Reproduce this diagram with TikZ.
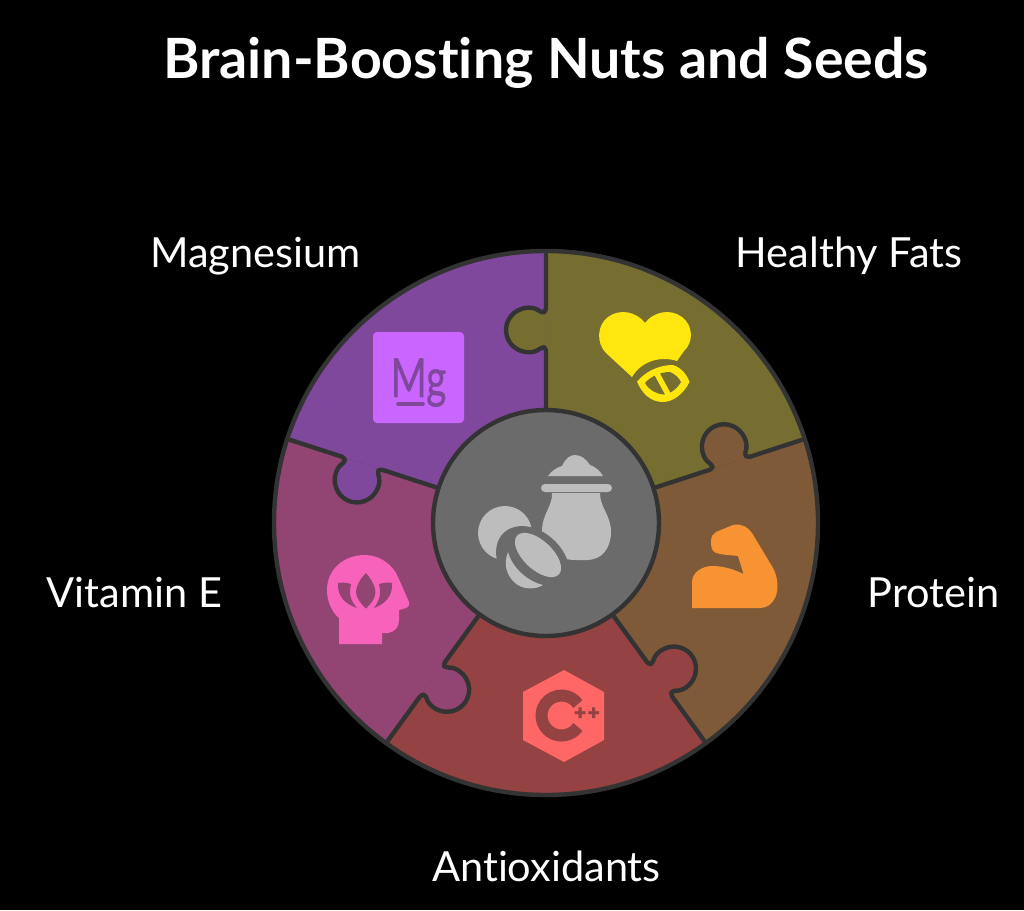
\documentclass[tikz,border=0pt]{standalone}
\usepackage{fontspec}
\setmainfont{Lato}[Ligatures=NoCommon]
\newfontfamily\iconfont{Fira Sans}
\newfontfamily\mgfont{Lato}[FakeBold=0.7]
\usetikzlibrary{calc}
\definecolor{seam}{RGB}{51,51,51}
\definecolor{olive}{RGB}{118,110,48}
\definecolor{brown}{RGB}{127,90,56}
\definecolor{brick}{RGB}{148,66,66}
\definecolor{plum}{RGB}{146,69,115}
\definecolor{grape}{RGB}{128,72,156}
\definecolor{hub}{RGB}{107,107,107}
\definecolor{hubicon}{RGB}{189,189,189}
\definecolor{mgicon}{RGB}{201,102,255}
\definecolor{hearticon}{RGB}{255,230,15}
\definecolor{armicon}{RGB}{247,147,51}
\definecolor{cppicon}{RGB}{255,102,102}
\definecolor{headicon}{RGB}{247,99,187}

\begin{document}
\begin{tikzpicture}[
  x=1pt, y=-1pt,
  title/.style={font=\fontsize{55.5}{60}\selectfont\bfseries, text=white, anchor=base},
  label/.style={font=\fontsize{41.5}{48}\selectfont, text=white, anchor=base},
  piece/.style={line width=4.4pt, draw=seam, line join=round, rounded corners=3pt},
  rim/.style={line width=4.4pt, draw=seam}
]

% Page background fixes the proportions.
\fill[black] (0,0) rectangle (1024,910);
\useasboundingbox (0,0) rectangle (1024,910);

\node[title] (head) at (546,78) {Brain-Boosting Nuts and Seeds};

% Ring wedges, one per 72 degrees, clockwise from the top.
\foreach \ang/\col in {0/olive,72/brown,144/brick,216/plum,288/grape}{
  \begin{scope}[shift={(546,523)},rotate=-\ang]
    \fill[\col] (-90:272) arc[start angle=-90,end angle=-18,radius=272]
      -- (-18:113) arc[start angle=-18,end angle=-90,radius=113] -- cycle;
  \end{scope}
}

% Seams with their puzzle tabs; each tab takes the colour of the wedge after the seam.
\foreach \ang/\col in {0/olive,72/brown,144/brick,216/plum,288/grape}{
  \begin{scope}[shift={(546,523)},rotate=-\ang]
    \path[piece, fill=\col] (0,-272) -- (0,-212)
      -- ($(-18,-193)+(-50:22)$) arc[start angle=-50,end angle=-310,radius=22]
      -- (0,-175) -- (0,-113);
  \end{scope}
}

% Outer rim and centre disc.
\draw[rim] (546,523) circle (272);
\draw[rim, fill=hub] (546,523) circle (113);

% Centre icon: jar and two nuts.
\fill[hubicon] (505,533) circle (27);
\fill[hubicon] (552,493) .. controls (553,505) and (542,515) .. (542,530)
  .. controls (542,545) and (555,560) .. (575,560) -- (587,560)
  .. controls (602,560) and (611,548) .. (611,532)
  .. controls (611,515) and (600,508) .. (600,493) -- cycle;
\fill[hubicon, rounded corners=4pt] (541,484) rectangle (612,492);
\fill[hubicon] (548,476) .. controls (552,470) and (558,467) .. (562,466)
  .. controls (566,458) and (570,455) .. (575,455)
  .. controls (581,455) and (586,459) .. (590,465)
  .. controls (596,467) and (600,471) .. (603,476) -- cycle;
\fill[hub, rotate around={-45:(533,563)}] (533,563) ellipse[x radius=42,y radius=31];
\fill[hubicon] (508,552) .. controls (503,565) and (507,575) .. (514,582)
  .. controls (522,590) and (535,590) .. (543,585)
  .. controls (530,582) and (513,570) .. (508,552) -- cycle;
\fill[hubicon, rotate around={-43:(538,555)}] (538,555) ellipse[x radius=28.5,y radius=14.5];

% Magnesium icon.
\fill[mgicon, rounded corners=4pt] (373,332) rectangle (464,423);
\node[font=\mgfont\fontsize{54}{54}\selectfont, text=grape, inner sep=0pt, anchor=base]
  (mgtext) at (418.5,397) {\scalebox{0.72}[1]{Mg}};
\draw[grape, line width=3.6pt, line cap=round] (398,404) -- (423,404);

% Healthy fats icon: heart and leaf.
\fill[hearticon] (632,377) -- (606,353) .. controls (596,343) and (597,325) .. (608,317)
  .. controls (620,308) and (637,312) .. (645,323)
  .. controls (653,312) and (670,308) .. (682,317)
  .. controls (693,325) and (694,342) .. (684,351) -- (677,361)
  .. controls (662,356) and (642,360) .. (632,377) -- cycle;
\fill[hearticon] (637,381.7) .. controls (645,372) and (658,365) .. (673,365)
  .. controls (682,368) and (687,375) .. (689.5,382)
  .. controls (683,395) and (672,402) .. (663,402)
  .. controls (650,402) and (642,393) .. (637,381.7) -- cycle;
\fill[olive] (645,383) .. controls (651,376) and (661,372) .. (670,372)
  .. controls (675,374) and (679,378) .. (681,382)
  .. controls (677,389) and (670,394) .. (664,394.5)
  .. controls (656,394) and (649,390) .. (645,383) -- cycle;
\draw[hearticon, line width=5.5pt] (656,372) -- (669,396);

% Protein icon: flexed arm.
\fill[armicon] (692,608) -- (692,582) .. controls (692,572) and (703,566) .. (712,566)
  .. controls (725,566) and (735,570) .. (743.5,574) -- (738,556)
  .. controls (730,555) and (722,555) .. (716,553)
  .. controls (711,551) and (711,545) .. (711,542)
  .. controls (711,536) and (713,534) .. (716,532) -- (733,525)
  .. controls (741,523) and (748,527) .. (752,533) -- (773,568)
  .. controls (778,577) and (779,590) .. (775,598)
  .. controls (772,604) and (767,608) .. (760,608) -- cycle;

% Antioxidants icon: hexagon badge.
\fill[cppicon] (564,670) -- (604,692) -- (604,740) -- (564,762) -- (523,740) -- (523,692) -- cycle;
\draw[brick, line width=12pt] ($(561.5,715.5)+(35:20)$) arc[start angle=35,end angle=325,radius=20];
\node[font=\iconfont\bfseries\fontsize{25}{25}\selectfont, text=brick, inner sep=0pt]
  (plustext) at (587,715) {++};

% Vitamin E icon: head with lotus.
\fill[headicon] (339,644) -- (382,644) -- (382,633) -- (388,633)
  .. controls (395,632) and (399,627) .. (399,620) -- (399,610) -- (406,608)
  .. controls (409,607) and (410,604) .. (409,602) -- (398,577)
  .. controls (393,565) and (380,555) .. (365,555)
  .. controls (343,555) and (327,570) .. (327,590)
  .. controls (327,602) and (332,612) .. (339,618) -- cycle;
\fill[plum] (366,573) .. controls (359,580) and (356,587) .. (356,592)
  .. controls (356,598) and (361,604) .. (366,608.5)
  .. controls (371,604) and (375.5,598) .. (375.5,592)
  .. controls (375.5,587) and (372,580) .. (366,573) -- cycle;
\fill[plum] (338,583) .. controls (343,582) and (347,583) .. (351,584)
  .. controls (348,596) and (352,602) .. (357,608)
  .. controls (345,604) and (337,596) .. (338,583) -- cycle;
\fill[plum] (392,583) .. controls (387,582) and (383,583) .. (379,584)
  .. controls (382,596) and (378,602) .. (374,608)
  .. controls (385,604) and (393,596) .. (392,583) -- cycle;

% Labels around the ring.
\node[label] (magnesium)    at (255.5,267) {Magnesium};
\node[label] (fats)         at (849,267)   {Healthy Fats};
\node[label] (vitamin)      at (134.5,607) {Vitamin E};
\node[label] (protein)      at (933.5,607) {Protein};
\node[label] (antioxidants) at (546.5,881) {Antioxidants};

\end{tikzpicture}
\end{document}
